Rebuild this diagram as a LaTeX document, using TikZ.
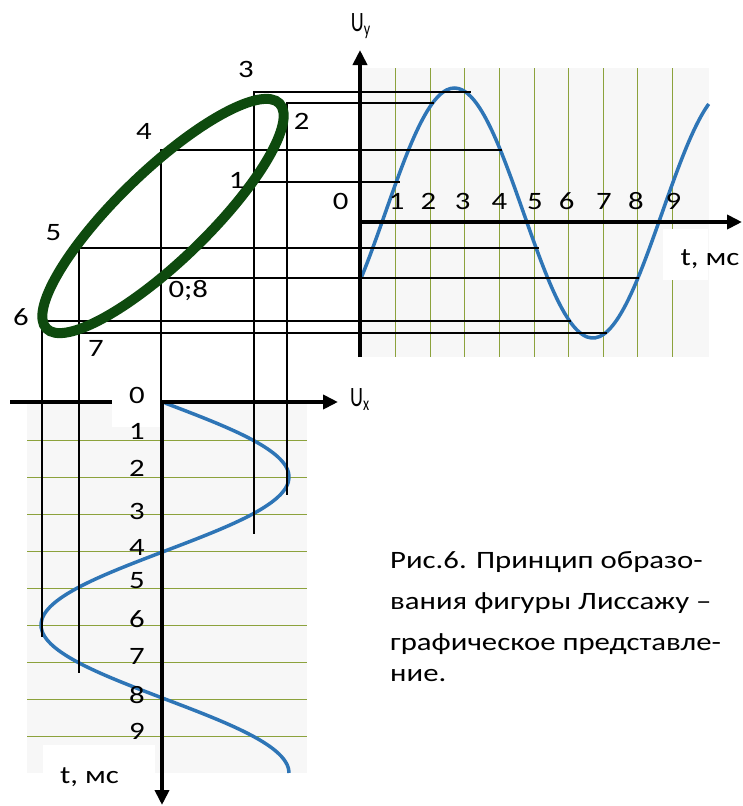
\documentclass[tikz,border=0pt]{standalone}
\usepackage{fontspec}
\setmainfont{Carlito}[FakeStretch=1.23]
\newfontfamily\axfont{Carlito}[FakeStretch=0.72]
\usetikzlibrary{arrows.meta}
\definecolor{wavecol}{HTML}{2E75B6}
\definecolor{gridcol}{HTML}{8CA23C}
\definecolor{figcol}{HTML}{0E4A0E}
\definecolor{papercol}{HTML}{F7F7F7}
\begin{document}
\begin{tikzpicture}[x=1pt,y=-1pt,
    axis/.style={line width=4.5pt,-{Triangle[length=15pt,width=14pt]}},
    guide/.style={line width=1.8pt},
    gridln/.style={gridcol,line width=1pt},
    wave/.style={wavecol,line width=3.5pt},
    lbl/.style={font=\fontsize{25}{25}\selectfont,inner sep=0pt,anchor=base},
    axlbl/.style={font=\axfont\fontsize{28}{28}\selectfont,inner sep=0pt,anchor=base west}]
        \useasboundingbox (0,0) rectangle (742,806);
        % top: U_y(t)
        \fill[papercol] (362,68) rectangle (709,357);
        \foreach \k in {1,...,9}{\draw[gridln] ({361+34.6*\k},68) -- ({361+34.6*\k},357);}
        \fill[white] (663,229) rectangle (708,280);
        \draw[wave,domain=0:10.05,samples=90,smooth] plot ({361+34.6*\x},{213-125*sin(45*\x-31.5)});
        % bottom: U_x(t)
        \fill[papercol] (27,402) rectangle (307,773);
        \foreach \k in {1,...,9}{\draw[gridln] (27,{403+37*\k}) -- (307,{403+37*\k});}
        \fill[white] (43,745) rectangle (155,773);
        \draw[wave,domain=0:10,samples=90,smooth] plot ({165+124*sin(45*\x)},{403+37*\x});
        % projection lines
        \foreach \px/\py/\ex/\ey in {254/91.7/470.7/534, 287/103/434/495, 161/150/502/402, 79/247.7/539/672.7, 41.7/320.7/570.7/636.7}{\draw[guide] (\ex,\py) -| (\px,\ey);}
        \foreach \px/\py/\ex in {254/181.7/400, 161/277.7/639, 79/333/607}{\draw[guide] (\px,\py) -- (\ex,\py);}
        \draw[figcol,line width=10pt,rotate around={44:(163,216)}] (163,216) ellipse [x radius=162pt,y radius=45pt];
        % axes
        \draw[axis] (360,357) -- (360,50);
        \draw[axis] (360,222) -- (742,222);
        \draw[axis] (10,402) -- (338,402);
        \fill[white] (112,388) rectangle (159.5,427);
        \draw[axis] (162,402) -- (162,805);
        \node[axlbl] (uy) at (350.7,31.7) {U\textsubscript{y}};
        \node[axlbl] (ux) at (350,406.7) {U\textsubscript{x}};
        \node[lbl] (tt) at (710,265) {t, мс};
        \node[lbl] (tb) at (89.5,783.3) {t, мс};
        % point labels
        \foreach \n/\lx/\ly in {3/246/77.5, 2/301.7/129, 4/144/139, 1/236.7/188.5, 5/53.3/240, 0;8/188.3/297, 6/21/325.8, 7/96/356.5}{\node[lbl] (p\n) at (\lx,\ly) {\n};}
        \foreach \n/\lx in {0/340.7, 1/396.7, 2/428.3, 3/462.7, 4/499.3, 5/535, 6/566.7, 7/604, 8/636, 9/673.3}{\node[lbl] (ty\n) at (\lx,209) {\n};}
        \foreach \n/\ly in {0/403.5, 1/439, 2/476.5, 3/519, 4/555.5, 5/588.5, 6/627, 7/664, 8/703.5, 9/739}{\node[lbl] (tx\n) at (137,\ly) {\n};}
        % caption
        \foreach \s/\ly [count=\i] in {{Рис.6. Принцип образо-}/568.3, {вания фигуры Лиссажу –}/609, {графическое представле-}/650, {ние.}/681.7}{\node[lbl,anchor=base west] (cap\i) at (390,\ly) {\s};}
\end{tikzpicture}
\end{document}
